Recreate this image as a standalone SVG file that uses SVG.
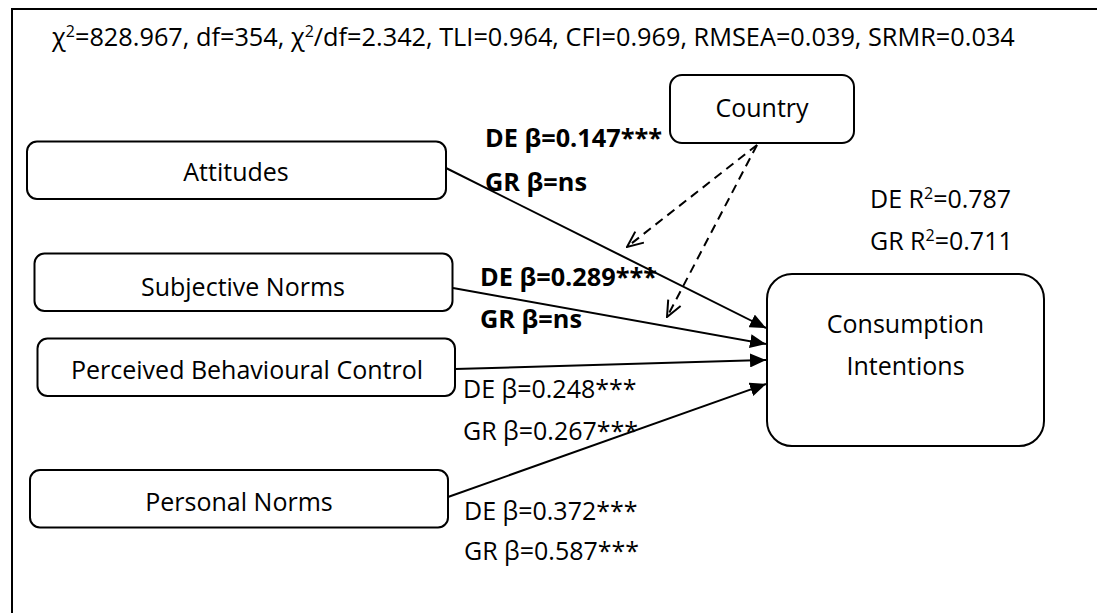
<svg xmlns="http://www.w3.org/2000/svg" width="1097" height="613" viewBox="0 0 1097 613">
<defs>
<marker id="solid" viewBox="0 0 16 14" refX="16" refY="7" markerWidth="16" markerHeight="14" markerUnits="userSpaceOnUse" orient="auto">
<path d="M0,0 L16,7 L0,14 Z" fill="#000"/>
</marker>
<marker id="open" viewBox="0 0 18 16" refX="17" refY="8" markerWidth="18" markerHeight="16" markerUnits="userSpaceOnUse" orient="auto">
<path d="M1,1 L17,8 L1,15" fill="none" stroke="#000" stroke-width="2"/>
</marker>
</defs>
<style>
text{font-family:"Open Sans","Noto Sans","DejaVu Sans",sans-serif;font-size:25px;fill:#000}
.c{text-anchor:middle}
.b{font-weight:bold;font-size:25.3px}
.box{fill:#fff;stroke:#000;stroke-width:2}
.ln{fill:none;stroke:#000;stroke-width:2;marker-end:url(#solid)}
.dl{fill:none;stroke:#000;stroke-width:2;stroke-dasharray:9 6;marker-end:url(#open)}
</style>
<rect x="0" y="0" width="1097" height="613" fill="#fff"/>
<path d="M12,620 V9 H1110" fill="none" stroke="#000" stroke-width="2"/>
<text id="fit" x="52" y="46" style="font-size:25.3px">χ<tspan dy="-9" font-size="16">2</tspan><tspan dy="9">=828.967, df=354, χ</tspan><tspan dy="-9" font-size="16">2</tspan><tspan dy="9">/df=2.342, TLI=0.964, CFI=0.969, RMSEA=0.039, SRMR=0.034</tspan></text>
<g id="connectors">
<line class="ln" x1="446" y1="168" x2="766" y2="328"/>
<line class="ln" x1="453" y1="288" x2="766" y2="344"/>
<line class="ln" x1="455" y1="369" x2="766" y2="360"/>
<line class="ln" x1="448" y1="497" x2="766" y2="384"/>
<line class="dl" x1="757" y1="145" x2="627" y2="247"/>
<line class="dl" x1="757" y1="145" x2="667" y2="317"/>
</g>
<g id="country"><rect class="box" x="670" y="75" width="184" height="68" rx="12"/><text class="c" x="762" y="117">Country</text></g>
<g id="attitudes"><rect class="box" x="27" y="141.5" width="419" height="57.5" rx="10"/><text class="c" x="236" y="181">Attitudes</text></g>
<g id="subjective-norms"><rect class="box" x="34.5" y="253.5" width="418" height="57.5" rx="10"/><text class="c" x="243" y="296">Subjective Norms</text></g>
<g id="pbc"><rect class="box" x="37.5" y="338.5" width="417.5" height="57.5" rx="10"/><text class="c" x="247" y="379">Perceived Behavioural Control</text></g>
<g id="personal-norms"><rect class="box" x="30" y="470" width="418" height="57.5" rx="10"/><text class="c" x="239" y="511">Personal Norms</text></g>
<g id="consumption-intentions"><rect class="box" x="767" y="274" width="277" height="172" rx="25"/><text class="c" x="905.5" y="333">Consumption</text><text class="c" x="905.5" y="375">Intentions</text></g>
<g id="labels">
<text class="b" x="485" y="147">DE β=0.147***</text>
<text class="b" x="485" y="191">GR β=ns</text>
<text class="b" x="480" y="286">DE β=0.289***</text>
<text class="b" x="480" y="328">GR β=ns</text>
<text x="463" y="398">DE β=0.248***</text>
<text x="463" y="440">GR β=0.267***</text>
<text x="464" y="520">DE β=0.372***</text>
<text x="464" y="560">GR β=0.587***</text>
<text x="870" y="208">DE R<tspan dy="-9" font-size="16">2</tspan><tspan dy="9">=0.787</tspan></text>
<text x="870" y="250">GR R<tspan dy="-9" font-size="16">2</tspan><tspan dy="9">=0.711</tspan></text>
</g>
</svg>
